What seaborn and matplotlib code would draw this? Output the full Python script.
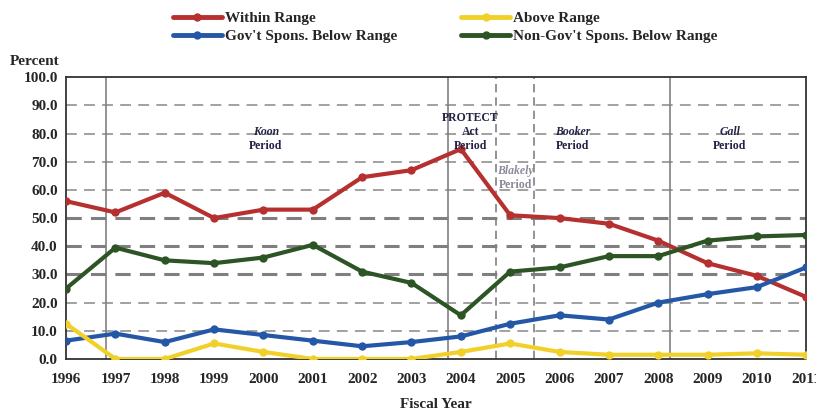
import matplotlib
matplotlib.use("Agg")
import matplotlib.pyplot as plt
import seaborn as sns
import pandas as pd
from matplotlib.ticker import FormatStrFormatter
from matplotlib.lines import Line2D

years = list(range(1996, 2012))
within_range = [56, 52, 59, 50, 53, 53, 64.5, 67, 74.5, 51, 50, 48, 42, 34, 29.5, 22]
above_range = [12.5, 0, 0, 5.5, 2.5, 0, 0, 0, 2.5, 5.5, 2.5, 1.5, 1.5, 1.5, 2, 1.5]
gov_below = [6.5, 9, 6, 10.5, 8.5, 6.5, 4.5, 6, 8, 12.5, 15.5, 14, 20, 23, 25.5, 32.5]
nongov_below = [25, 39.5, 35, 34, 36, 40.5, 31, 27, 15.5, 31, 32.5, 36.5, 36.5, 42, 43.5, 44]
series_names = ["Within Range", "Gov't Spons. Below Range", "Above Range", "Non-Gov't Spons. Below Range"]
colors = ["#b5302f", "#2457a6", "#f2d02a", "#2d5424"]

sns.set_style("white")
plt.rcParams['font.family'] = ['Liberation Serif', 'DejaVu Serif']
plt.rcParams['font.weight'] = 'bold'

df = pd.DataFrame({
    "Year": years * 4,
    "Percent": within_range + gov_below + above_range + nongov_below,
    "Series": sum([[n] * len(years) for n in series_names], []),
})

fig = plt.figure(figsize=(8.16, 4.15), dpi=100)
ax = fig.add_axes([0.081, 0.135, 0.907, 0.679])

# gridlines
for v in range(10, 100, 10):
    heavy = v in (30, 40, 50)
    ax.axhline(v, color="#7f7f7f" if heavy else "#9a9a9a", lw=2.2 if heavy else 1.3,
               ls=(0, (5, 3)) if heavy else (0, (6, 4)), zorder=1)

# period boundaries
for xv in (1996.8, 2003.73, 2008.23):
    ax.axvline(xv, color="#808080", lw=1.2, zorder=1)
for xv in (2004.72, 2005.49):
    ax.axvline(xv, color="#808080", lw=1.2, ls=(0, (5, 3)), zorder=1)

sns.lineplot(data=df, x="Year", y="Percent", hue="Series", hue_order=series_names,
             palette=colors, marker="o", markersize=6, markeredgewidth=0, lw=3,
             ax=ax, zorder=3, legend=False)

ax.set_xlim(1996, 2011)
ax.set_ylim(0, 100)
ax.set_yticks(range(0, 101, 10))
ax.yaxis.set_major_formatter(FormatStrFormatter("%.1f"))
ax.set_xticks(years)
ax.set_xticklabels([str(y) for y in years])
ax.tick_params(axis="x", direction="out", length=5, width=1.2, labelsize=11, pad=5)
ax.tick_params(axis="y", direction="out", length=4, width=1.2, labelsize=11, pad=2)
for lab in ax.get_xticklabels() + ax.get_yticklabels():
    lab.set_fontweight("bold")
for s in ax.spines.values():
    s.set_color("#333333")
    s.set_linewidth(1.3)
ax.set_xlabel("Fiscal Year", fontsize=11, fontweight="bold", labelpad=9)
ax.set_ylabel("")
fig.text(0.012, 0.835, "Percent", fontsize=11, fontweight="bold", ha="left", va="bottom")

# period annotations
tc = "#222244"
fs = 8.5
ax.text(2000.05, 78.5, "Koon", ha="center", va="bottom", fontsize=fs, fontweight="bold", style="italic", color=tc)
ax.text(2000.05, 73.5, "Period", ha="center", va="bottom", fontsize=fs, fontweight="bold", color=tc)
ax.text(2004.2, 83.5, "PROTECT", ha="center", va="bottom", fontsize=fs, fontweight="bold", color=tc)
ax.text(2004.2, 78.5, "Act", ha="center", va="bottom", fontsize=fs, fontweight="bold", color=tc)
ax.text(2004.2, 73.5, "Period", ha="center", va="bottom", fontsize=fs, fontweight="bold", color=tc)
ax.text(2005.1, 64.5, "Blakely", ha="center", va="bottom", fontsize=fs, fontweight="bold", style="italic", color="#8a8a9a")
ax.text(2005.1, 59.5, "Period", ha="center", va="bottom", fontsize=fs, fontweight="bold", color="#8a8a9a")
ax.text(2006.27, 78.5, "Booker", ha="center", va="bottom", fontsize=fs, fontweight="bold", style="italic", color=tc)
ax.text(2006.27, 73.5, "Period", ha="center", va="bottom", fontsize=fs, fontweight="bold", color=tc)
ax.text(2009.45, 78.5, "Gall", ha="center", va="bottom", fontsize=fs, fontweight="bold", style="italic", color=tc)
ax.text(2009.45, 73.5, "Period", ha="center", va="bottom", fontsize=fs, fontweight="bold", color=tc)

# legend
handles = [Line2D([0, 0.33, 0.66, 1], [0, 0, 0, 0], color=c, lw=3.5, marker="o",
                  markersize=5, markevery=[1, 2]) for c in colors]
leg = fig.legend(handles=handles, labels=series_names, ncol=2, loc="upper left",
                 bbox_to_anchor=(0.195, 1.006), frameon=False,
                 handlelength=3.2, handletextpad=0.2, columnspacing=4.2,
                 labelspacing=0.3, prop={"weight": "bold", "size": 11})

fig.savefig("out.png", dpi=100)
